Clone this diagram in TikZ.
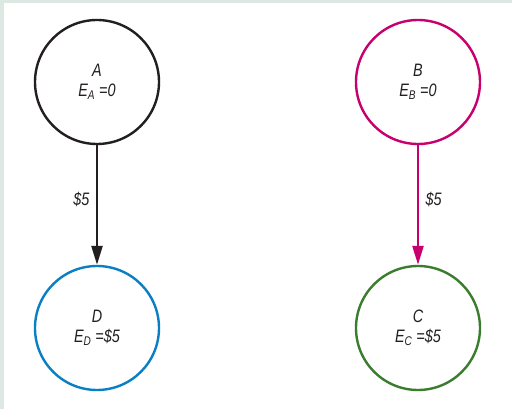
\documentclass[tikz,border=0pt]{standalone}
\usepackage{fontspec}
\setmainfont{Liberation Sans}[FakeStretch=0.8]
\usepackage{tikz}
\usetikzlibrary{arrows.meta}

\definecolor{bgframe}{HTML}{DDE8E2}
\definecolor{inkblack}{HTML}{231F20}
\definecolor{inkmagenta}{HTML}{C8006E}
\definecolor{inkblue}{HTML}{0A7FC4}
\definecolor{inkgreen}{HTML}{3B7D2E}

\tikzset{
  party/.style={circle,draw=#1,line width=2.4pt,minimum size=124pt,inner sep=0pt,
    align=center,font=\fontsize{18}{20}\selectfont\itshape,text=inkblack},
  transfer/.style={draw=#1,line width=2.4pt,-{Triangle[length=19pt,width=11pt]}},
  amount/.style={font=\fontsize{18}{20}\selectfont\itshape,text=inkblack}
}

\begin{document}
\begin{tikzpicture}[x=1pt,y=-1pt]
\fill[bgframe] (0,0) rectangle (512,409);
\fill[white] (4,3) rectangle (512,409);
\useasboundingbox (0,0) rectangle (512,409);

\node[party=inkblack] (A) at (97,82) {A\\E\textsubscript{A} =0};
\node[party=inkmagenta] (B) at (418,82) {B\\E\textsubscript{B} =0};
\node[party=inkblue] (D) at (97,328) {D\\E\textsubscript{D} =\$5};
\node[party=inkgreen] (C) at (418,328) {C\\E\textsubscript{C} =\$5};

\draw[transfer=inkblack] (A) -- (D) node[amount,pos=0.45,left=3pt]{\$5};
\draw[transfer=inkmagenta] (B) -- (C) node[amount,pos=0.45,right=3pt]{\$5};
\end{tikzpicture}
\end{document}
